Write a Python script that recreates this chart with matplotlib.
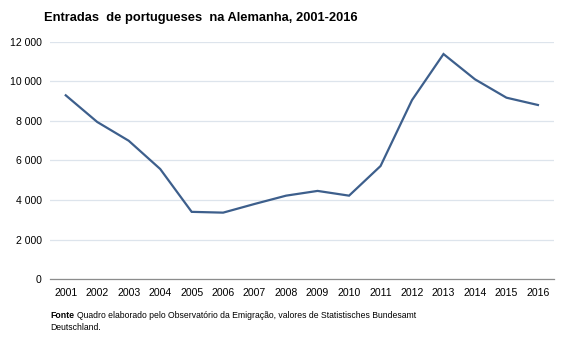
import matplotlib
matplotlib.use("Agg")
import matplotlib.pyplot as plt
from matplotlib.ticker import FuncFormatter

plt.rcParams["font.family"] = ["Liberation Sans", "DejaVu Sans"]

anos = ["2001", "2002", "2003", "2004", "2005", "2006", "2007", "2008",
        "2009", "2010", "2011", "2012", "2013", "2014", "2015", "2016"]
entradas = [9300, 7950, 7000, 5570, 3400, 3360, 3800, 4220,
            4460, 4220, 5720, 9060, 11390, 10110, 9180, 8810]

fig = plt.figure(figsize=(5.67, 3.4), dpi=100)
ax = fig.add_axes([0.0882, 0.1794, 0.8883, 0.6971])

x = range(len(anos))
ax.plot(x, entradas, color="#3d5f8c", linewidth=1.6, solid_joinstyle="miter")

ax.set_xlim(-0.5, len(anos) - 0.5)
ax.set_ylim(0, 12000)
ax.set_yticks(range(0, 12001, 2000))
ax.yaxis.set_major_formatter(FuncFormatter(lambda v, _: f"{int(v):,}".replace(",", " ")))
ax.set_xticks(list(x))
ax.set_xticklabels(anos)

ax.grid(axis="y", color="#dde4ec", linewidth=0.9)
ax.set_axisbelow(True)
for side in ("top", "right", "left"):
    ax.spines[side].set_visible(False)
ax.spines["bottom"].set_color("#8c8c8c")
ax.spines["bottom"].set_linewidth(0.9)
ax.tick_params(length=0, labelsize=7.6, colors="#000000")
ax.tick_params(axis="x", pad=6.5)
ax.tick_params(axis="y", pad=6)

fig.text(44 / 567, 1 - 18 / 340, "Entradas  de portugueses  na Alemanha, 2001-2016",
         fontsize=9.3, fontweight="bold", va="center", ha="left")

fonte = fig.text(50 / 567, 1 - 316 / 340, "Fonte", fontsize=6.3,
                 fontweight="bold", va="center", ha="left")
ax.annotate("Quadro elaborado pelo Observatório da Emigração, valores de Statistisches Bundesamt",
            xy=(1, 0.5), xycoords=fonte, xytext=(2, 0), textcoords="offset points",
            fontsize=6.2, va="center", ha="left")
fig.text(50 / 567, 1 - 327 / 340, "Deutschland.", fontsize=6.2, va="center", ha="left")

fig.savefig("out.png", dpi=100)
